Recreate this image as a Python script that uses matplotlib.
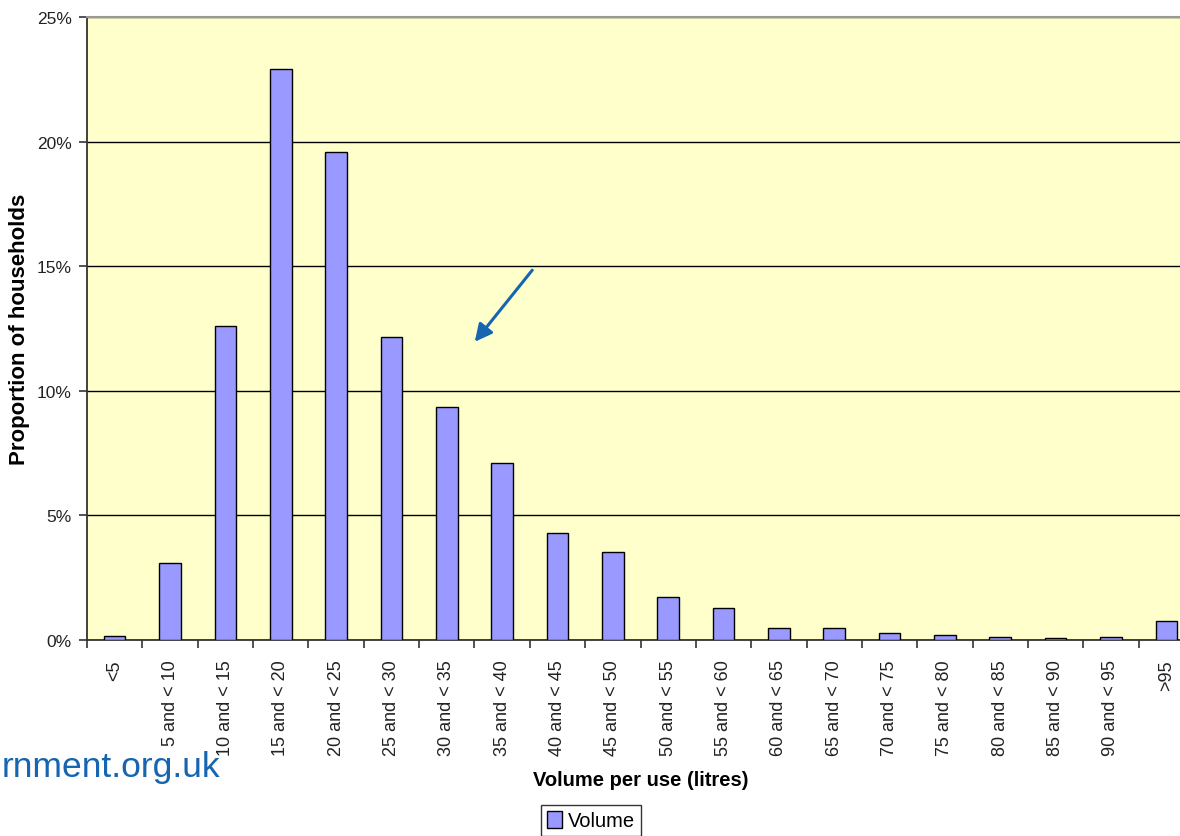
import matplotlib.pyplot as plt
import numpy as np

plt.rcParams['font.family'] = ['Liberation Sans', 'DejaVu Sans']

# 用水量分组（升/次）
categories = ['<5', '5 and < 10', '10 and < 15', '15 and < 20', '20 and < 25',
              '25 and < 30', '30 and < 35', '35 and < 40', '40 and < 45',
              '45 and < 50', '50 and < 55', '55 and < 60', '60 and < 65',
              '65 and < 70', '70 and < 75', '75 and < 80', '80 and < 85',
              '85 and < 90', '90 and < 95', '>95']
# 各组住户比例 (%)
volume = [0.15, 3.09, 12.62, 22.9, 19.6, 12.14, 9.33, 7.12, 4.28, 3.52,
          1.72, 1.3, 0.48, 0.48, 0.28, 0.2, 0.14, 0.07, 0.14, 0.76]
yticks = [0, 5, 10, 15, 20, 25]

W, H = 1180, 837
fig = plt.figure(figsize=(W / 100, H / 100), dpi=100)
ax = fig.add_axes([87 / W, (H - 641) / H, (1194 - 87) / W, (641 - 18) / H])
ax.set_facecolor('#ffffcc')

x = np.arange(len(categories))
ax.bar(x, volume, width=0.39, color='#9999ff', edgecolor='black',
       linewidth=1.0, zorder=3, label='Volume')

ax.set_xlim(-0.5, len(categories) - 0.5)
ax.set_ylim(0, 25)

# 网格线
ax.set_yticks(yticks)
ax.set_yticklabels([f'{v}%' for v in yticks], fontsize=12.5, color='#222222')
ax.yaxis.grid(True, color='black', linewidth=1.0, zorder=1)
ax.tick_params(axis='y', direction='out', length=6, width=1.2, pad=5,
               color='#333333')

# 类别刻度在组间
ax.set_xticks(x)
ax.set_xticklabels(categories, rotation=90, fontsize=13, color='#222222',
                   va='top')
ax.set_xticks(np.arange(-0.5, len(categories), 1), minor=True)
ax.tick_params(axis='x', which='major', length=0, pad=14)
ax.tick_params(axis='x', which='minor', direction='out', length=6,
               width=1.2, color='#333333')

for s in ['left', 'bottom']:
    ax.spines[s].set_color('#333333')
    ax.spines[s].set_linewidth(1.3)
ax.spines['top'].set_color('#999999')
ax.spines['top'].set_linewidth(1.5)
ax.spines['right'].set_visible(False)

ax.set_ylabel('Proportion of households', fontsize=16, fontweight='bold')
ax.yaxis.set_label_coords((20 - 87) / 1107, 0.5)
ax.yaxis.label.set_va('center')
ax.set_xlabel('Volume per use (litres)', fontsize=14.5, fontweight='bold')
ax.xaxis.set_label_coords(0.5, (641 - 781) / 623)
ax.xaxis.label.set_va('center')

leg = fig.legend(loc='upper center', bbox_to_anchor=(591 / W, (H - 806) / H),
                 fontsize=14.5, frameon=True, fancybox=False,
                 handlelength=0.75, handleheight=0.9, handletextpad=0.25,
                 borderpad=0.3, borderaxespad=0)
leg.get_frame().set_edgecolor('black')
leg.get_frame().set_linewidth(1.0)

# 左下角网址（被裁切）
fig.text(220 / W, (H - 777) / H, 'rnment.org.uk', fontsize=25.5,
         color='#1565b0', ha='right', va='baseline')

# 蓝色箭头
ax.annotate('', xy=(473 / W, (H - 345) / H), xytext=(534 / W, (H - 269) / H),
            xycoords='figure fraction', textcoords='figure fraction',
            arrowprops=dict(arrowstyle='-|>', color='#1565b0', lw=2.2,
                            mutation_scale=26))

fig.savefig('out.png', dpi=100)
